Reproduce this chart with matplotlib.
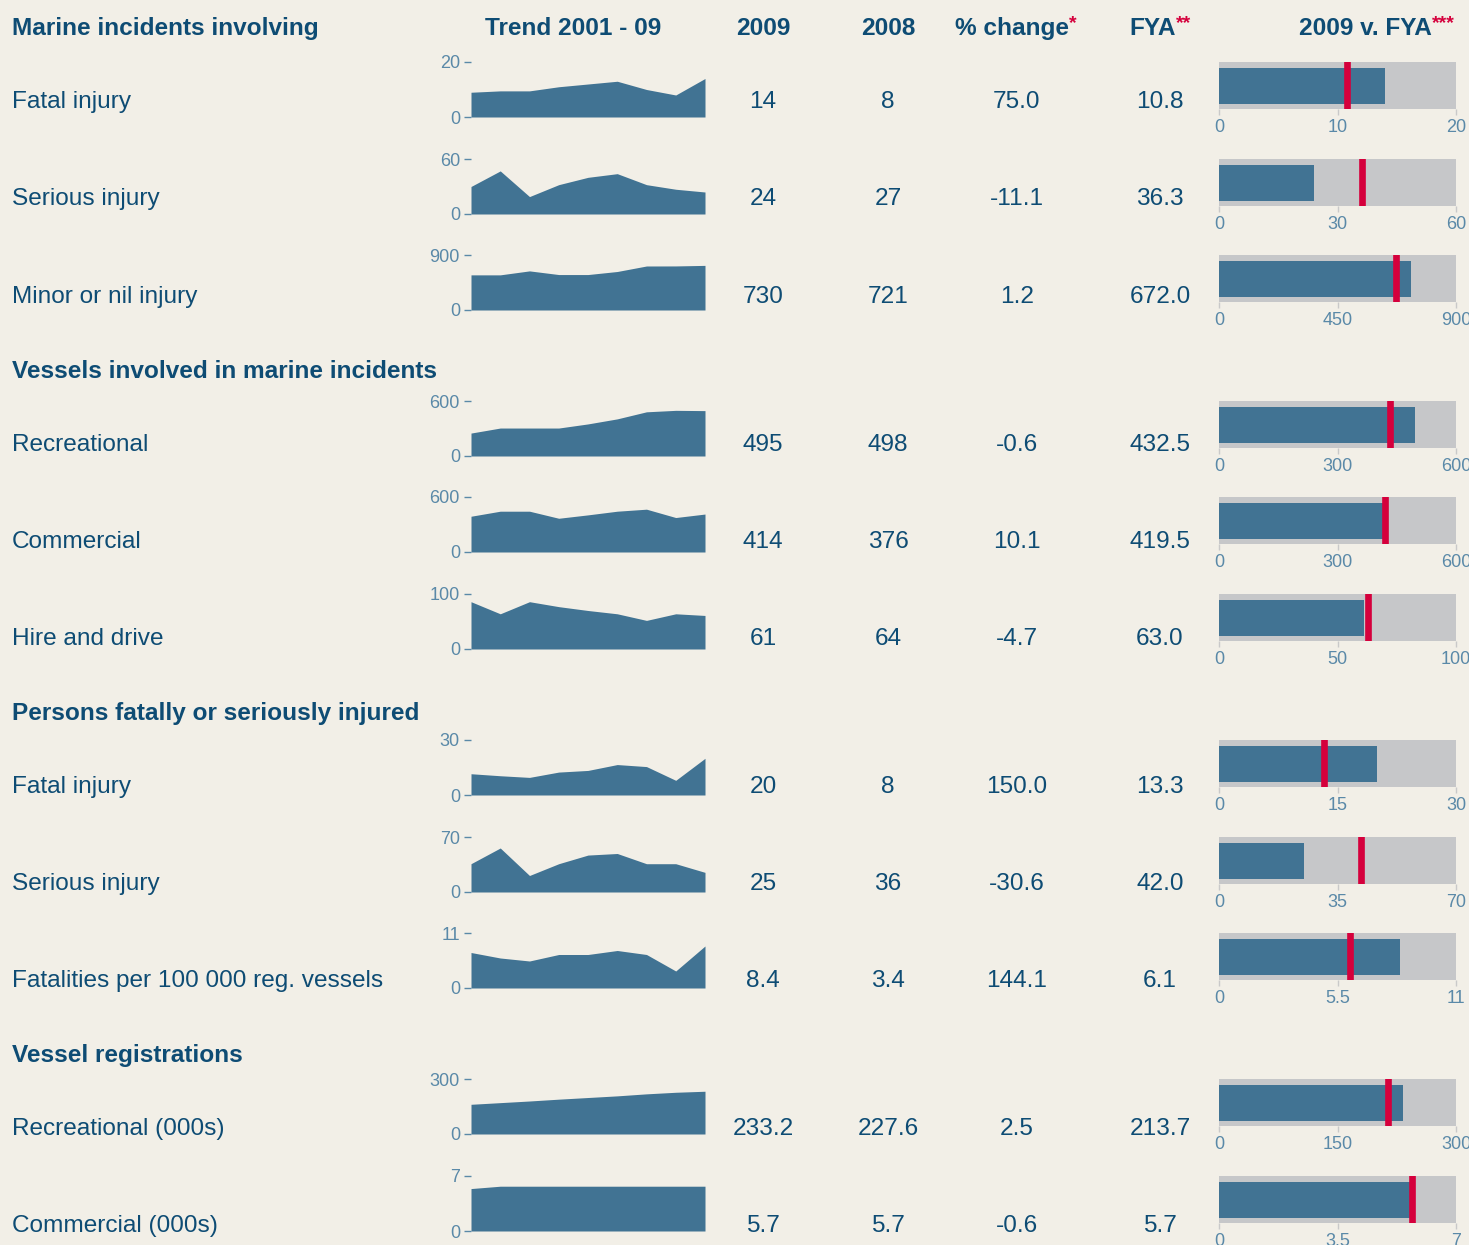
import numpy as np
import matplotlib
matplotlib.use("Agg")
import matplotlib.pyplot as plt

# ---------------------------------------------------------------------------
# DATA
# ---------------------------------------------------------------------------
years = [2001, 2002, 2003, 2004, 2005, 2006, 2007, 2008, 2009]

section_titles = ["Vessels involved in marine incidents",
                  "Persons fatally or seriously injured",
                  "Vessel registrations"]

row_labels = ["Fatal injury", "Serious injury", "Minor or nil injury",
              "Recreational", "Commercial", "Hire and drive",
              "Fatal injury", "Serious injury", "Fatalities per 100 000 reg. vessels",
              "Recreational (000s)", "Commercial (000s)"]

val_2009 = ["14", "24", "730", "495", "414", "61", "20", "25", "8.4", "233.2", "5.7"]
val_2008 = ["8", "27", "721", "498", "376", "64", "8", "36", "3.4", "227.6", "5.7"]
pct_change = ["75.0", "-11.1", "1.2", "-0.6", "10.1", "-4.7", "150.0", "-30.6", "144.1", "2.5", "-0.6"]
fya_text = ["10.8", "36.3", "672.0", "432.5", "419.5", "63.0", "13.3", "42.0", "6.1", "213.7", "5.7"]

cur_2009 = [14, 24, 730, 495, 414, 61, 20, 25, 8.4, 233.2, 5.7]
fya = [10.8, 36.3, 672.0, 432.5, 419.5, 63.0, 13.3, 42.0, 6.1, 213.7, 5.7]
axis_max = [20, 60, 900, 600, 600, 100, 30, 70, 11, 300, 7]
bullet_ticks = [["0", "10", "20"], ["0", "30", "60"], ["0", "450", "900"],
                ["0", "300", "600"], ["0", "300", "600"], ["0", "50", "100"],
                ["0", "15", "30"], ["0", "35", "70"], ["0", "5.5", "11"],
                ["0", "150", "300"], ["0", "3.5", "7"]]

trend = [
    [9, 9.5, 9.5, 11, 12, 13, 10, 8, 14],
    [30, 47, 19, 32, 40, 44, 32, 27, 24],
    [575, 575, 640, 580, 580, 630, 720, 721, 730],
    [250, 305, 305, 305, 350, 405, 482, 498, 495],
    [390, 445, 445, 368, 405, 445, 467, 376, 414],
    [86, 64, 86, 77, 70, 64, 52, 64, 61],
    [11.6, 10.5, 9.6, 12.5, 13.4, 16.6, 15.5, 8, 20],
    [36, 56, 21, 36, 47, 49, 36, 36, 25],
    [7.1, 6.0, 5.4, 6.7, 6.7, 7.5, 6.7, 3.4, 8.4],
    [162, 171, 180, 190, 199, 208, 219, 227.6, 233.2],
    [5.4, 5.7, 5.7, 5.7, 5.7, 5.7, 5.7, 5.7, 5.7],
]

# ---------------------------------------------------------------------------
# LAYOUT (pixels, text positions are baselines)
# ---------------------------------------------------------------------------
W, H = 1469, 1245
label_y = [108, 205, 303, 451, 548, 645, 793, 890, 987, 1135, 1232]
chart_top = [62, 159, 255, 401, 497, 594, 740, 837, 933, 1079, 1176]
section_y = [378, 720, 1062]
head_y = 35
col_x = [763, 888, 1017, 1160]

bg = "#f2efe7"
navy = "#0e4c74"
tickc = "#5a89a8"
fillc = "#417393"
greyc = "#c6c7c9"
redc = "#d5003c"

plt.rcParams['font.family'] = ['Liberation Sans', 'DejaVu Sans']

fig = plt.figure(figsize=(W / 100, H / 100), dpi=100, facecolor=bg)
base = fig.add_axes([0, 0, 1, 1])
base.set_xlim(0, W)
base.set_ylim(H, 0)
base.axis('off')
base.set_facecolor(bg)

# headers
hdr = dict(color=navy, fontsize=17.6, fontweight='bold', va='baseline')
ast = dict(color=redc, fontsize=14, fontweight='bold', va='baseline')
base.text(12, head_y, "Marine incidents involving", ha='left', **hdr)
base.text(573, head_y, "Trend 2001 - 09", ha='center', **hdr)
base.text(763, head_y, "2009", ha='center', **hdr)
base.text(888, head_y, "2008", ha='center', **hdr)
base.text(1069, head_y, "% change", ha='right', **hdr)
base.text(1069, head_y - 7, "*", ha='left', **ast)
base.text(1176, head_y, "FYA", ha='right', **hdr)
base.text(1176, head_y - 7, "**", ha='left', **ast)
base.text(1432, head_y, "2009 v. FYA", ha='right', **hdr)
base.text(1432, head_y - 7, "***", ha='left', **ast)

for title, y in zip(section_titles, section_y):
    base.text(12, y, title, ha='left', **hdr)

for i in range(len(row_labels)):
    y = label_y[i]
    base.text(12, y, row_labels[i], ha='left', va='baseline', color=navy, fontsize=17.6)
    for x, s in zip(col_x, [val_2009[i], val_2008[i], pct_change[i], fya_text[i]]):
        base.text(x, y, s, ha='center', va='baseline', color=navy, fontsize=17.6)

    top = chart_top[i]
    # sparkline
    sp = fig.add_axes([471 / W, 1 - (top + 55) / H, (705 - 471) / W, 55 / H])
    sp.set_facecolor('none')
    sp.fill_between(years, trend[i], 0, color=fillc, linewidth=0)
    sp.set_xlim(years[0], years[-1])
    sp.set_ylim(0, axis_max[i])
    for s in sp.spines.values():
        s.set_visible(False)
    sp.set_xticks([])
    sp.set_yticks([0, axis_max[i]])
    sp.set_yticklabels(["0", str(axis_max[i])])
    sp.tick_params(axis='y', length=5, width=1, color=tickc, labelcolor=tickc,
                   labelsize=13, pad=3)

    # bullet
    bu = fig.add_axes([1219 / W, 1 - (top + 47) / H, 237 / W, 47 / H])
    bu.set_facecolor(greyc)
    bu.barh(0.5, cur_2009[i], height=36 / 47, color=fillc, linewidth=0)
    bu.axvline(fya[i], color=redc, linewidth=4.8)
    bu.set_xlim(0, axis_max[i])
    bu.set_ylim(0, 1)
    for s in bu.spines.values():
        s.set_visible(False)
    bu.set_yticks([])
    bu.set_xticks([0, axis_max[i] / 2, axis_max[i]])
    bu.set_xticklabels(bullet_ticks[i], family=['Liberation Sans Narrow', 'Liberation Sans'])
    bu.tick_params(axis='x', length=4, width=1, color="#c9c9c9", labelcolor=tickc,
                   labelsize=13, pad=3.5)

fig.savefig("out.png", dpi=100, facecolor=bg)
